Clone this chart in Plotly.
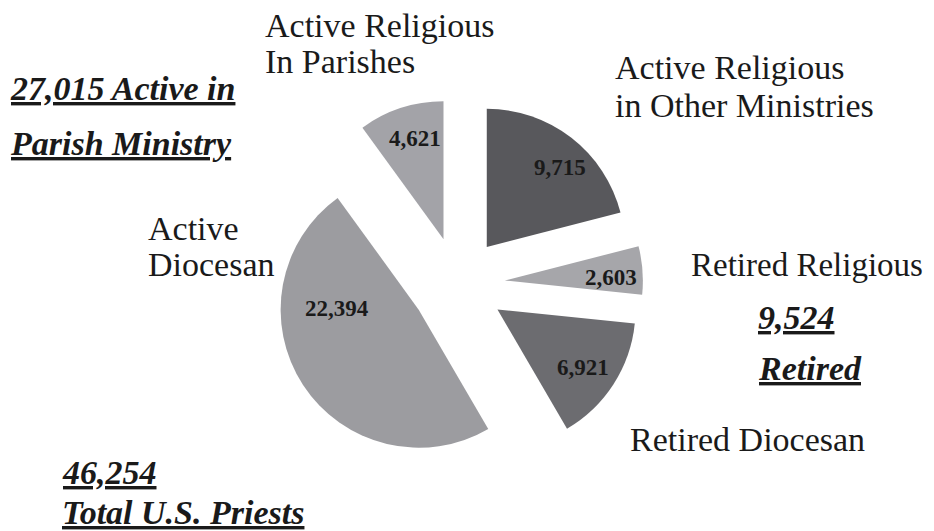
import plotly.graph_objects as go

# Data (clockwise from 12 o'clock)
categories = ["Active Religious in Other Ministries", "Retired Religious",
              "Retired Diocesan", "Active Diocesan", "Active Religious In Parishes"]
values = [9715, 2603, 6921, 22394, 4621]
colors = ["#58585c", "#a6a6aa", "#6c6c70", "#9c9ca0", "#a3a3a8"]

W, H = 934, 531

fig = go.Figure(go.Pie(
    labels=categories,
    values=values,
    textinfo="none",
    marker=dict(colors=colors, line=dict(width=0)),
    sort=False,
    direction="clockwise",
    rotation=0,
    pull=[0.34] * len(values),
    domain=dict(x=[0.2141, 0.7495], y=[0.1318, 0.8286]),
    hoverinfo="label+value",
))

serif = "Liberation Serif"
txt = "#1a1a1a"

# value labels inside slices: (x px, y px of centre), same order as values
value_label_pos = [(552, 165), (603, 275), (575, 365), (329, 306), (407, 136)]

annotations = []
for v, (x, y) in zip(values, value_label_pos):
    fs = 23
    annotations.append(dict(
        text=f"<b>{v:,}</b>", x=x / W, y=1 - (y - 0.24 * fs) / H,
        xref="paper", yref="paper", xanchor="center", yanchor="middle",
        showarrow=False, font=dict(family=serif, size=fs, color=txt),
    ))

# (text, x px left, y px of cap middle, emphasised, font size)
labels = [
    ("Active Religious", 265, 26, False, 34),
    ("In Parishes", 265, 62, False, 34),
    ("Active Religious", 615, 68, False, 34),
    ("in Other Ministries", 615, 106, False, 34),
    ("Active", 148, 228.5, False, 34),
    ("Diocesan", 148, 265, False, 34),
    ("Retired Religious", 691, 265, False, 33),
    ("Retired Diocesan", 630, 440, False, 34),
    ("27,015 Active in", 10, 89, True, 34),
    ("Parish Ministry", 10, 143.5, True, 34),
    ("9,524", 758, 317.5, True, 34),
    ("Retired", 758, 369, True, 34),
    ("46,254", 62, 473, True, 34),
    ("Total U.S. Priests", 62, 513, True, 34),
]

for t, x, y, emph, fs in labels:
    s = f"<b><i><u>{t}</u></i></b>" if emph else t
    annotations.append(dict(
        text=s, x=(x - 10) / W, y=1 - (y - 0.24 * fs) / H,
        xref="paper", yref="paper",
        xanchor="left", yanchor="middle", showarrow=False,
        font=dict(family=serif, size=fs, color=txt),
    ))

fig.update_layout(
    width=W, height=H,
    margin=dict(l=0, r=0, t=0, b=0),
    paper_bgcolor="white",
    plot_bgcolor="white",
    showlegend=False,
    annotations=annotations,
)

fig.write_html("out.html")
